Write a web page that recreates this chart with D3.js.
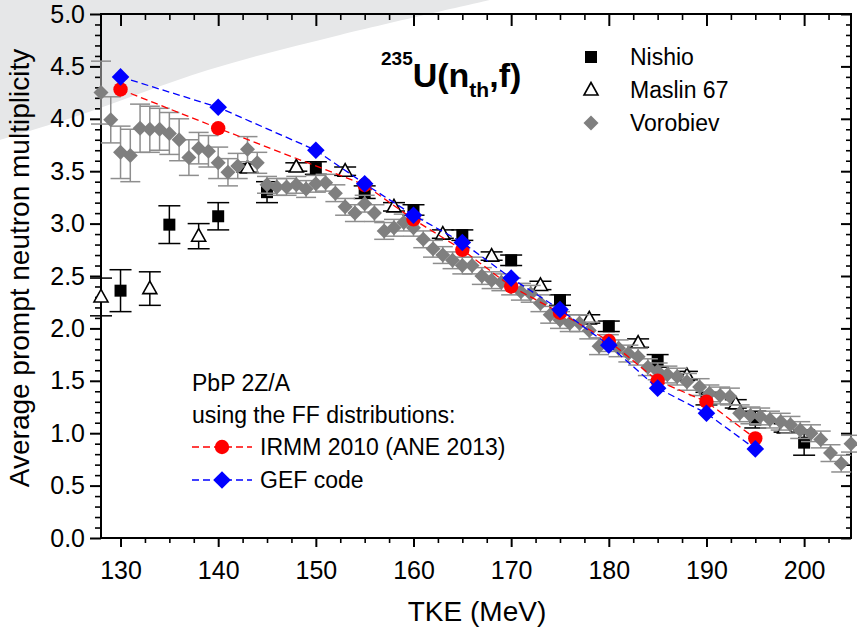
<!DOCTYPE html>
<html><head><meta charset="utf-8">
<script src="https://cdn.jsdelivr.net/npm/d3@7"></script>
<style>
body{margin:0;background:#fff}
text{font-family:Arial,"Liberation Sans",Helvetica,sans-serif;fill:#000}
</style>
</head><body>
<svg id="c" width="857" height="631"></svg>
<script>
// ---------------- data ----------------
const nishioX   = [130,135,140,145,150,155,160,165,170,175,180,185,190,195,200];
const nishioY   = [2.36,2.99,3.07,3.30,3.53,3.30,3.13,2.89,2.65,2.27,2.02,1.69,1.33,1.13,0.91];
const nishioErr = [0.20,0.18,0.13,0.10,0.06,0.06,0.05,0.05,0.05,0.05,0.05,0.06,0.06,0.08,0.12];

const maslinX   = [128,133,138,143,148,153,158,163,168,173,178,183,188,193,198];
const maslinY   = [2.30,2.38,2.88,3.53,3.54,3.50,3.16,2.90,2.69,2.41,2.09,1.86,1.55,1.28,1.05];
const maslinErr = [0.18,0.16,0.12,0.04,0.04,0.04,0.04,0.04,0.04,0.04,0.04,0.04,0.04,0.04,0.04];

const vorobievX = [128,129,130,131,132,133,134,135,136,137,138,139,140,141,142,143,144,145,146,147,148,149,150,151,152,153,154,155,156,157,158,159,160,161,162,163,164,165,166,167,168,169,170,171,172,173,174,175,176,177,178,179,180,181,182,183,184,185,186,187,188,189.3,190.3,191.4,192.4,193.4,194.5,195.5,196.5,197.6,198.6,199.6,200.7,201.7,202.7,203.8,204.8];
const vorobievY = [4.25,3.99,3.68,3.65,3.91,3.90,3.90,3.86,3.80,3.63,3.72,3.69,3.58,3.49,3.55,3.71,3.58,3.37,3.35,3.35,3.37,3.33,3.38,3.39,3.29,3.16,3.10,3.19,3.10,2.93,2.96,3.01,2.96,2.85,2.76,2.70,2.65,2.60,2.60,2.50,2.46,2.44,2.40,2.35,2.33,2.24,2.13,2.08,2.05,2.05,1.98,1.83,1.86,1.81,1.76,1.73,1.63,1.59,1.56,1.54,1.49,1.44,1.38,1.36,1.35,1.19,1.17,1.16,1.13,1.11,1.08,1.03,1.00,0.94,0.81,0.71,0.90];
const vorobievErr = [0.30,0.22,0.25,0.25,0.23,0.22,0.20,0.20,0.20,0.17,0.15,0.15,0.15,0.13,0.12,0.12,0.10,0.08,0.08,0.08,0.08,0.08,0.08,0.08,0.08,0.08,0.08,0.08,0.08,0.08,0.08,0.08,0.08,0.08,0.08,0.08,0.08,0.08,0.08,0.08,0.08,0.08,0.08,0.08,0.08,0.08,0.08,0.08,0.08,0.08,0.08,0.08,0.08,0.08,0.08,0.08,0.08,0.08,0.08,0.08,0.08,0.08,0.08,0.08,0.08,0.08,0.08,0.08,0.08,0.08,0.08,0.08,0.08,0.08,0.08,0.08,0.08];

const irmmX = [130,140,155,160,165,170,175,180,185,190,195];
const irmmY = [4.28,3.91,3.37,3.04,2.75,2.40,2.15,1.88,1.50,1.30,0.95];

const gefX = [130,140,150,155,160,165,170,175,180,185,190,195];
const gefY = [4.40,4.11,3.70,3.38,3.08,2.82,2.48,2.18,1.84,1.43,1.19,0.85];

const xMajorTicks = [130,140,150,160,170,180,190,200];
const xMinorTicks = [132.5,135,137.5,142.5,145,147.5,152.5,155,157.5,162.5,165,167.5,172.5,175,177.5,182.5,185,187.5,192.5,195,197.5,202.5];
const yMajorTicks = [0,0.5,1,1.5,2,2.5,3,3.5,4,4.5,5];
const yMinorTicks = [0.1,0.2,0.3,0.4,0.6,0.7,0.8,0.9,1.1,1.2,1.3,1.4,1.6,1.7,1.8,1.9,2.1,2.2,2.3,2.4,2.6,2.7,2.8,2.9,3.1,3.2,3.3,3.4,3.6,3.7,3.8,3.9,4.1,4.2,4.3,4.4,4.6,4.7,4.8,4.9];

// ---------------- layout ----------------
const svg = d3.select("#c");
const L = 101, R = 851, T = 14, B = 538;
const x = d3.scaleLinear().domain([128, 204.8]).range([L, R]);
const y = d3.scaleLinear().domain([0, 5]).range([B, T]);

// light gray background wedge (top-left)
const wedge = [[0,140],[80,115],[208,70],[340,35],[490,0]];
svg.append("path")
  .attr("d", d3.line().curve(d3.curveCatmullRom)(wedge) + "L0,0Z")
  .attr("fill", "#e6e7e8");

// ---------------- axes ----------------
function styleAxis(g, w) {
  g.select(".domain").remove();
  g.selectAll(".tick line").attr("stroke", "#000").attr("stroke-width", w);
  g.selectAll(".tick text").style("font-size", "25px").style("font-family", "Arial, 'Liberation Sans', sans-serif").attr("fill", "#000");
}
svg.append("g").attr("transform", `translate(0,${B})`)
  .call(d3.axisBottom(x).tickValues(xMajorTicks).tickSize(9).tickPadding(14).tickFormat(d3.format("d")))
  .call(g => styleAxis(g, 2));
svg.append("g").attr("transform", `translate(0,${B})`)
  .call(d3.axisBottom(x).tickValues(xMinorTicks).tickSize(5).tickFormat(""))
  .call(g => styleAxis(g, 1.6));
svg.append("g").attr("transform", `translate(0,${T})`)
  .call(d3.axisTop(x).tickValues(xMajorTicks).tickSize(-12).tickFormat(""))
  .call(g => styleAxis(g, 2));
svg.append("g").attr("transform", `translate(0,${T})`)
  .call(d3.axisTop(x).tickValues(xMinorTicks).tickSize(-6).tickFormat(""))
  .call(g => styleAxis(g, 1.6));
svg.append("g").attr("transform", `translate(${L},0)`)
  .call(d3.axisLeft(y).tickValues(yMajorTicks).tickSize(11).tickPadding(5).tickFormat(d3.format(".1f")))
  .call(g => styleAxis(g, 2));
svg.append("g").attr("transform", `translate(${L},0)`)
  .call(d3.axisLeft(y).tickValues(yMinorTicks).tickSize(6).tickFormat(""))
  .call(g => styleAxis(g, 1.6));
svg.append("g").attr("transform", `translate(${R},0)`)
  .call(d3.axisRight(y).tickValues(yMajorTicks).tickSize(-10).tickFormat(""))
  .call(g => styleAxis(g, 2));
svg.append("g").attr("transform", `translate(${R},0)`)
  .call(d3.axisRight(y).tickValues(yMinorTicks).tickSize(-5).tickFormat(""))
  .call(g => styleAxis(g, 1.6));

svg.append("rect").attr("x", L).attr("y", T).attr("width", R - L).attr("height", B - T)
  .attr("fill", "none").attr("stroke", "#000").attr("stroke-width", 2);

// axis titles
svg.append("text").attr("x", 477).attr("y", 621).attr("text-anchor", "middle")
  .style("font-size", "28px").text("TKE (MeV)");
svg.append("text").attr("transform", "translate(29,268) rotate(-90)").attr("text-anchor", "middle")
  .style("font-size", "28px").text("Average prompt neutron multiplicity");

// ---------------- marks ----------------
function errorBars(xs, ys, es, color, width, cap) {
  const g = svg.append("g").attr("stroke", color).attr("stroke-width", width).attr("fill", "none");
  xs.forEach((xv, i) => {
    const cx = x(xv), y1 = y(ys[i] - es[i]), y2 = y(ys[i] + es[i]);
    g.append("line").attr("x1", cx).attr("x2", cx).attr("y1", y1).attr("y2", y2);
    g.append("line").attr("x1", cx - cap).attr("x2", cx + cap).attr("y1", y1).attr("y2", y1);
    g.append("line").attr("x1", cx - cap).attr("x2", cx + cap).attr("y1", y2).attr("y2", y2);
  });
}
const sqr = d3.symbol().type(d3.symbolSquare).size(144);
const tri = "M0,-7.5L7,5L-7,5Z";
const dia = s => `M0,${-s}L${s},0L0,${s}L${-s},0Z`;

// Nishio
errorBars(nishioX, nishioY, nishioErr, "#000", 1.5, 11);
svg.append("g").selectAll("path").data(nishioX).join("path")
  .attr("transform", (d, i) => `translate(${x(d)},${y(nishioY[i])})`)
  .attr("d", sqr()).attr("fill", "#000");

// Maslin
errorBars(maslinX, maslinY, maslinErr, "#000", 1.5, 11);
svg.append("g").selectAll("path").data(maslinX).join("path")
  .attr("transform", (d, i) => `translate(${x(d)},${y(maslinY[i])})`)
  .attr("d", tri).attr("fill", "#fff").attr("stroke", "#000").attr("stroke-width", 1.6);

// Vorobiev
errorBars(vorobievX, vorobievY, vorobievErr, "#8e8e8e", 1.5, 10);
svg.append("g").selectAll("path").data(vorobievX).join("path")
  .attr("transform", (d, i) => `translate(${x(d)},${y(vorobievY[i])})`)
  .attr("d", dia(7.5)).attr("fill", "#7f7f7f");

// PbP IRMM
const lineGen = d3.line().x(d => x(d[0])).y(d => y(d[1]));
svg.append("path").attr("d", lineGen(irmmX.map((d, i) => [d, irmmY[i]])))
  .attr("fill", "none").attr("stroke", "#ff0000").attr("stroke-width", 1.3).attr("stroke-dasharray", "7,4");
svg.append("g").selectAll("circle").data(irmmX).join("circle")
  .attr("cx", d => x(d)).attr("cy", (d, i) => y(irmmY[i])).attr("r", 7.2).attr("fill", "#ff0000");

// PbP GEF
svg.append("path").attr("d", lineGen(gefX.map((d, i) => [d, gefY[i]])))
  .attr("fill", "none").attr("stroke", "#0000ff").attr("stroke-width", 1.3).attr("stroke-dasharray", "7,4");
svg.append("g").selectAll("path").data(gefX).join("path")
  .attr("transform", (d, i) => `translate(${x(d)},${y(gefY[i])})`)
  .attr("d", dia(8.8)).attr("fill", "#0000ff");

// ---------------- title ----------------
const t = svg.append("text").attr("x", 381).attr("y", 87).style("font-weight", "bold");
t.append("tspan").attr("dy", -22).style("font-size", "19px").text("235");
t.append("tspan").attr("dy", 22).style("font-size", "34px").text("U(n");
t.append("tspan").attr("dy", 10).style("font-size", "21px").text("th");
t.append("tspan").attr("dy", -10).style("font-size", "34px").text(",f)");

// ---------------- legend (top right) ----------------
const lg = svg.append("g");
lg.append("path").attr("transform", "translate(591,57)").attr("d", sqr()).attr("fill", "#000");
lg.append("path").attr("transform", "translate(591,90)").attr("d", tri).attr("fill", "#fff").attr("stroke", "#000").attr("stroke-width", 1.6);
lg.append("path").attr("transform", "translate(591,123)").attr("d", dia(7.5)).attr("fill", "#7f7f7f");
[["Nishio", 65], ["Maslin 67", 98], ["Vorobiev", 131]].forEach(([s, yy]) =>
  lg.append("text").attr("x", 630).attr("y", yy).style("font-size", "23px").text(s));

// ---------------- legend (bottom left) ----------------
const lb = svg.append("g");
lb.append("text").attr("x", 192).attr("y", 391).style("font-size", "23px").text("PbP 2Z/A");
lb.append("text").attr("x", 192).attr("y", 423).style("font-size", "23px").text("using the FF distributions:");
lb.append("line").attr("x1", 192).attr("x2", 252).attr("y1", 447).attr("y2", 447)
  .attr("stroke", "#ff0000").attr("stroke-width", 1.3).attr("stroke-dasharray", "7,4");
lb.append("circle").attr("cx", 222).attr("cy", 447).attr("r", 7.2).attr("fill", "#ff0000");
lb.append("text").attr("x", 260).attr("y", 455).style("font-size", "23px").text("IRMM 2010 (ANE 2013)");
lb.append("line").attr("x1", 192).attr("x2", 252).attr("y1", 480).attr("y2", 480)
  .attr("stroke", "#0000ff").attr("stroke-width", 1.3).attr("stroke-dasharray", "7,4");
lb.append("path").attr("transform", "translate(222,480)").attr("d", dia(8.8)).attr("fill", "#0000ff");
lb.append("text").attr("x", 260).attr("y", 488).style("font-size", "23px").text("GEF code");
</script>
</body></html>
